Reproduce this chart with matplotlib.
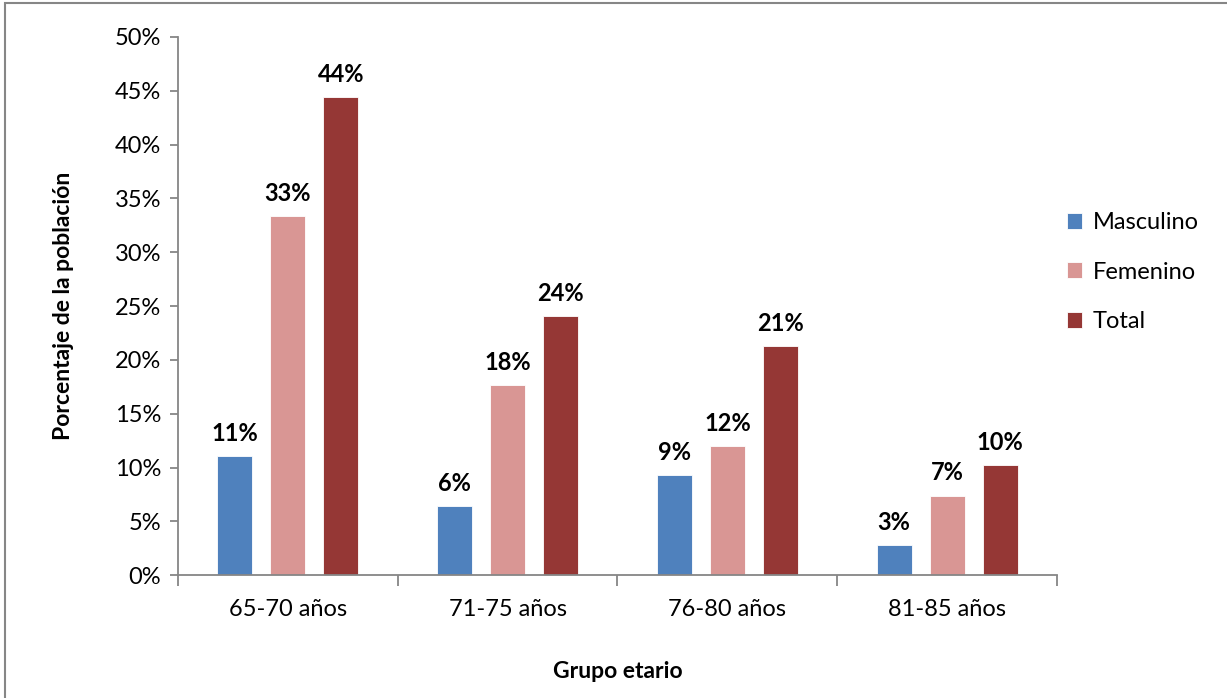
import numpy as np
import matplotlib.pyplot as plt
from matplotlib.patches import Rectangle

plt.rcParams['font.family'] = ['Lato', 'DejaVu Sans']

# Porcentaje de la población por grupo etario y sexo
grupos = ["65-70 años", "71-75 años", "76-80 años", "81-85 años"]
masculino = [11.1, 6.4, 9.3, 2.8]
femenino = [33.4, 17.7, 12.0, 7.4]
total = [44.4, 24.1, 21.3, 10.2]

series = [("Masculino", masculino, "#4F81BD"),
          ("Femenino", femenino, "#D99694"),
          ("Total", total, "#953735")]

fig = plt.figure(figsize=(12.27, 6.98), dpi=100)
ax = fig.add_axes([0.145, 0.176, 0.7165, 0.771])

x = np.arange(len(grupos))
ancho = 0.16
paso = 0.241
for i, (nombre, valores, color) in enumerate(series):
    pos = x + (i - 1) * paso
    barras = ax.bar(pos, valores, width=ancho, color=color, label=nombre,
                    edgecolor="white", linewidth=0.6)
    for b, v in zip(barras, valores):
        ax.annotate(f"{v:.0f}%", (b.get_x() + b.get_width() / 2, v),
                    xytext=(0, 8), textcoords="offset points",
                    ha="center", va="bottom", fontsize=17, fontweight="bold")

ax.set_xlim(-0.5, len(grupos) - 0.5)
ax.set_ylim(0, 50)
ax.set_yticks(range(0, 51, 5))
ax.set_yticklabels([f"{t}%" for t in range(0, 51, 5)])
ax.set_xticks(x)
ax.set_xticklabels(grupos)
ax.set_xticks(np.arange(-0.5, len(grupos)), minor=True)

gris = "#868686"
for lado in ["top", "right"]:
    ax.spines[lado].set_visible(False)
for lado in ["left", "bottom"]:
    ax.spines[lado].set_color(gris)
    ax.spines[lado].set_linewidth(1.3)

ax.tick_params(axis="y", direction="out", length=6, width=1.3, color=gris,
               labelsize=17, pad=6)
ax.tick_params(axis="x", which="major", length=0, labelsize=17, pad=17)
ax.tick_params(axis="x", which="minor", direction="out", length=8, width=1.3,
               color=gris)

ax.set_ylabel("Porcentaje de la población", fontsize=16.5, fontweight="bold",
              labelpad=29)
ax.set_xlabel("Grupo etario", fontsize=16.5, fontweight="bold", labelpad=30)

ax.legend(loc="center left", bbox_to_anchor=(1.0, 0.563), frameon=False,
          fontsize=17, handlelength=0.65, handleheight=0.65,
          handletextpad=0.45, labelspacing=1.2, borderaxespad=0.0)

# marco exterior del gráfico
fig.patches.append(Rectangle((0.004, -0.01), 1.2, 1.005,
                             transform=fig.transFigure, fill=False,
                             edgecolor=gris, linewidth=1.5))

fig.savefig("out.png", dpi=100)
